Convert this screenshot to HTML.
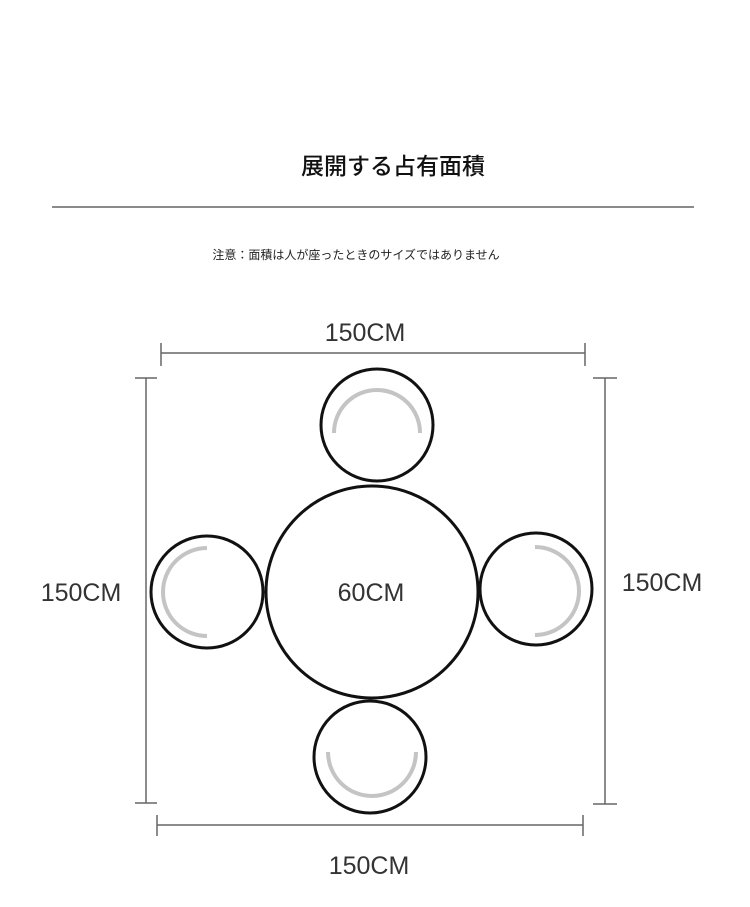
<!DOCTYPE html>
<html><head><meta charset="utf-8"><style>
html,body{margin:0;padding:0;background:#fff;}
svg{display:block}
</style></head><body>
<svg width="750" height="907" viewBox="0 0 750 907" xmlns="http://www.w3.org/2000/svg">
<rect width="750" height="907" fill="#fff"/>
<text x="393" y="174" font-family="Liberation Sans, Noto Sans CJK JP, sans-serif" font-size="23" font-weight="500" text-anchor="middle" fill="#111">展開する占有面積</text>
<line x1="52" y1="207" x2="694" y2="207" stroke="#444" stroke-width="1.2"/>
<text x="356" y="259" font-family="Liberation Sans, Noto Sans CJK JP, sans-serif" font-size="12" text-anchor="middle" fill="#222">注意：面積は人が座ったときのサイズではありません</text>

<g stroke="#666" stroke-width="1.5" fill="none">
<line x1="161" y1="353" x2="585" y2="353"/><line x1="161" y1="343" x2="161" y2="366"/><line x1="585" y1="343" x2="585" y2="366"/>
<line x1="146" y1="378" x2="146" y2="803"/><line x1="135" y1="378" x2="157" y2="378"/><line x1="135" y1="803" x2="157" y2="803"/>
<line x1="605" y1="378" x2="605" y2="804"/><line x1="593" y1="378" x2="617" y2="378"/><line x1="593" y1="804" x2="617" y2="804"/>
<line x1="157" y1="825" x2="583" y2="825"/><line x1="157" y1="815" x2="157" y2="836"/><line x1="583" y1="815" x2="583" y2="836"/>
</g>

<g font-family="Liberation Sans, sans-serif" font-size="25" fill="#333" text-anchor="middle">
<text x="365" y="341">150CM</text>
<text x="81" y="601">150CM</text>
<text x="662" y="591">150CM</text>
<text x="369" y="874">150CM</text>
<text x="371" y="601">60CM</text>
</g>

<g stroke="#111" stroke-width="3" fill="none">
<circle cx="372" cy="592" r="106"/>
<circle cx="377" cy="425" r="56"/>
<circle cx="207" cy="592" r="56"/>
<circle cx="536" cy="589" r="56"/>
<circle cx="370" cy="757" r="56"/>
</g>
<g stroke="#c4c4c4" stroke-width="4" fill="none">
<path d="M334 433 A43 43 0 0 1 420 433"/>
<path d="M207 548 A44 44 0 0 0 207 636"/>
<path d="M535 547 A44 44 0 0 1 535 635"/>
<path d="M328 752 A44 44 0 0 0 416 752"/>
</g>
</svg>
</body></html>
